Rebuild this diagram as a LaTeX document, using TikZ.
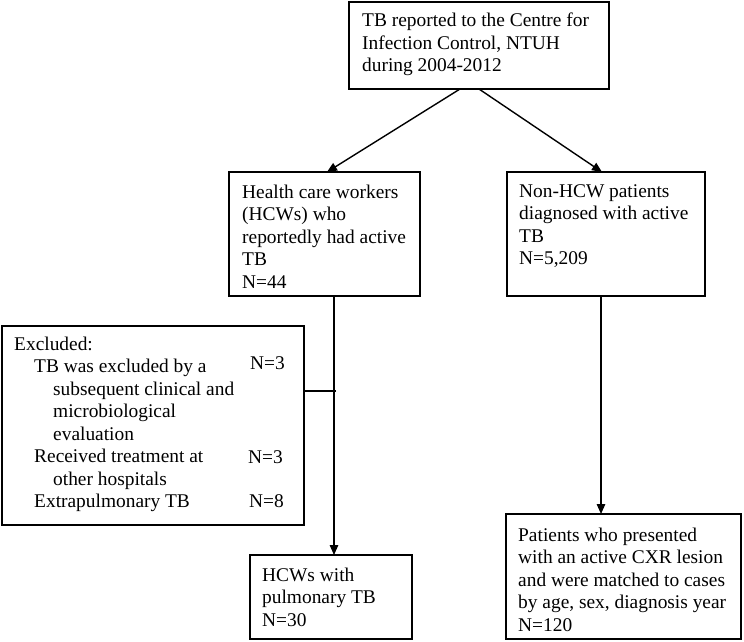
\documentclass[tikz,border=0pt]{standalone}
\usepackage{fontspec}
\setmainfont{Liberation Serif}
\usetikzlibrary{arrows.meta}
\begin{document}
\begin{tikzpicture}[x=1pt,y=-1pt,
  box/.style={draw, line width=1.6pt, inner sep=0pt, outer sep=0pt, anchor=north west},
  txt/.style={anchor=north west, inner sep=0pt, align=left,
    font=\fontsize{19.4}{22.5}\selectfont, execute at begin node=\strut},
  nval/.style={anchor=base west, inner sep=0pt, font=\fontsize{19.4}{22.5}\selectfont},
  conn/.style={line width=1.4pt},
  arr/.style={conn, -{Triangle[length=10pt,width=8.5pt]}}]
\useasboundingbox (0,0) rectangle (744,641);

% boxes
\node[box, minimum width=260pt, minimum height=87pt] (top) at (349,2) {};
\node[box, minimum width=191pt, minimum height=124pt] (hcw) at (229,172) {};
\node[box, minimum width=198pt, minimum height=124pt] (non) at (507,172) {};
\node[box, minimum width=302pt, minimum height=199pt] (excl) at (2,326) {};
\node[box, minimum width=162pt, minimum height=84pt] (pulm) at (250,555) {};
\node[box, minimum width=235pt, minimum height=125pt] (pat) at (506,514) {};

% texts
\node[txt] (toptxt) at ([xshift=13pt,yshift=-11pt]top.north west)
  {TB reported to the Centre for\\Infection Control, NTUH\\during 2004-2012};
\node[txt] (hcwtxt) at ([xshift=13pt,yshift=-12.4pt]hcw.north west)
  {Health care workers\\(HCWs) who\\reportedly had active\\TB\\N=44};
\node[txt] (nontxt) at ([xshift=12pt,yshift=-12.4pt]non.north west)
  {Non-HCW patients\\diagnosed with active\\TB\\N=5,209};
\node[txt] (excltxt) at ([xshift=12pt,yshift=-10.6pt]excl.north west)
  {Excluded:\\
   \hspace*{20pt}TB was excluded by a\\
   \hspace*{39pt}subsequent clinical and\\
   \hspace*{39pt}microbiological\\
   \hspace*{39pt}evaluation\\
   \hspace*{20pt}Received treatment at\\
   \hspace*{39pt}other hospitals\\
   \hspace*{20pt}Extrapulmonary TB};
\node[nval] (n1) at (250,369) {N=3};
\node[nval] (n2) at (248,463) {N=3};
\node[nval] (n3) at (249,507) {N=8};
\node[txt] (pulmtxt) at ([xshift=12pt,yshift=-12.4pt]pulm.north west)
  {HCWs with\\pulmonary TB\\N=30};
\node[txt] (pattxt) at ([xshift=12pt,yshift=-13.6pt]pat.north west)
  {Patients who presented\\with an active CXR lesion\\and were matched to cases\\by age, sex, diagnosis year\\N=120};

% connectors
\draw[arr] ([xshift=111pt]top.south west) -- ([xshift=98pt]hcw.north west);
\draw[arr] ([xshift=130pt]top.south west) -- ([xshift=95pt]non.north west);
\draw[arr] ([xshift=105pt]hcw.south west) -- ([xshift=84pt]pulm.north west);
\draw[arr] ([xshift=94pt]non.south west) -- ([xshift=95pt]pat.north west);
\coordinate (j) at (336,391);
\draw[conn] (j) -- (excl.east |- j);
\end{tikzpicture}
\end{document}
